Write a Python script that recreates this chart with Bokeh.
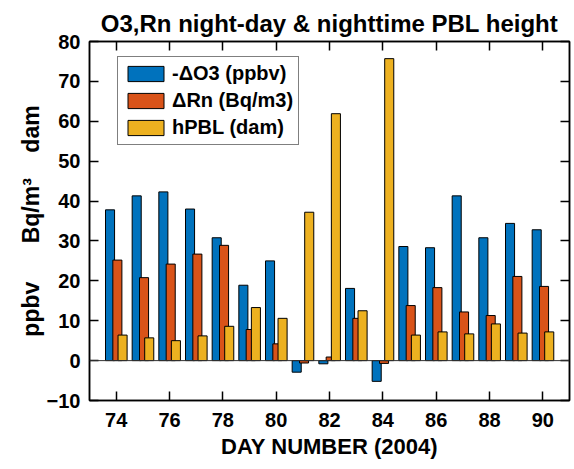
from bokeh.plotting import figure
from bokeh.models import ColumnDataSource, LinearAxis, Span, FixedTicker, Legend
from bokeh.transform import dodge
from bokeh.embed import file_html
from bokeh.resources import INLINE

# ---- data ----
days = [74, 75, 76, 77, 78, 79, 80, 81, 82, 83, 84, 85, 86, 87, 88, 89, 90]
neg_dO3 = [37.8, 41.3, 42.3, 38.0, 30.8, 18.9, 25.0, -2.9, -0.8, 18.1, -5.2, 28.6, 28.3, 41.3, 30.8, 34.4, 32.8]
dRn = [25.2, 20.8, 24.2, 26.7, 28.9, 7.8, 4.2, -0.6, 0.9, 10.6, -0.7, 13.8, 18.3, 12.2, 11.3, 21.1, 18.6]
hPBL = [6.4, 5.7, 5.0, 6.2, 8.6, 13.3, 10.6, 37.2, 61.9, 12.5, 75.7, 6.4, 7.2, 6.7, 9.2, 6.9, 7.2]
x_ticks = [74, 76, 78, 80, 82, 84, 86, 88, 90]
y_ticks = [-10, 0, 10, 20, 30, 40, 50, 60, 70, 80]
labels = ["-\u0394O3 (ppbv)", "\u0394Rn (Bq/m3)", "hPBL (dam)"]
title_text = "O3,Rn night-day & nighttime PBL height"
x_label = "DAY NUMBER (2004)"
y_units = ["ppbv", "Bq/m\u00b3", "dam"]

FONT = "Liberation Sans"
colors = ["#0072BD", "#D95319", "#EDB120"]

src = ColumnDataSource(dict(day=days, o3=neg_dO3, rn=dRn, pbl=hPBL))

p = figure(width=574, height=469, x_range=(73, 91), y_range=(-10, 80),
           output_backend="svg", toolbar_location=None,
           min_border_left=89, min_border_right=5, min_border_top=41, min_border_bottom=69)

p.title.text = title_text
p.title.align = "center"
p.title.text_font = FONT
p.title.text_font_size = "24px"
p.title.text_font_style = "bold"
p.title.text_color = "black"

p.grid.visible = False
p.outline_line_color = "black"
p.outline_line_width = 1.5

w = 0.34
r1 = p.vbar(x=dodge("day", -0.23), top="o3", bottom=0, width=w, source=src,
            fill_color=colors[0], line_color="black", line_width=1)
r2 = p.vbar(x=dodge("day", 0.045), top="rn", bottom=0, width=w, source=src,
            fill_color=colors[1], line_color="black", line_width=1)
r3 = p.vbar(x=dodge("day", 0.24), top="pbl", bottom=0, width=w, source=src,
            fill_color=colors[2], line_color="black", line_width=1)

p.add_layout(Span(location=0, dimension="width", line_color="#333333", line_width=1))

def style_axis(ax, show_labels=True):
    ax.axis_line_color = "black"
    ax.axis_line_width = 1.5
    ax.major_tick_in = 9
    ax.major_tick_out = 0
    ax.major_tick_line_width = 1.5
    ax.major_tick_line_color = "black"
    ax.minor_tick_line_color = None
    ax.major_label_text_font = FONT
    ax.major_label_text_font_style = "bold"
    ax.axis_label_text_font = FONT
    ax.axis_label_text_font_style = "bold"
    ax.axis_label_text_color = "black"
    if show_labels:
        ax.major_label_text_color = "black"
        ax.major_label_text_font_size = "20px"
    else:
        ax.major_label_text_color = None
        ax.major_label_text_font_size = "1px"
        ax.major_label_standoff = 0

p.xaxis.ticker = FixedTicker(ticks=x_ticks)
p.yaxis.ticker = FixedTicker(ticks=y_ticks)
style_axis(p.xaxis[0])
style_axis(p.yaxis[0])
p.xaxis.axis_label = x_label
p.xaxis.axis_label_text_font_size = "22px"
p.xaxis.major_label_standoff = 12
p.xaxis.axis_label_standoff = 4
nb = "\u00a0"
p.yaxis.axis_label = y_units[0] + nb * 6 + y_units[1] + nb * 4 + y_units[2]
p.yaxis.axis_label_text_font_size = "23px"
p.yaxis.major_label_standoff = 9
p.yaxis.axis_label_standoff = 0

top_ax = LinearAxis(ticker=FixedTicker(ticks=x_ticks))
style_axis(top_ax, show_labels=False)
p.add_layout(top_ax, "above")
right_ax = LinearAxis(ticker=FixedTicker(ticks=y_ticks))
style_axis(right_ax, show_labels=False)
p.add_layout(right_ax, "right")

legend = Legend(items=[(labels[0], [r1]), (labels[1], [r2]), (labels[2], [r3])],
                location=(28, 255))
legend.label_text_font = FONT
legend.label_text_font_style = "bold"
legend.label_text_font_size = "20px"
legend.label_text_color = "black"
legend.glyph_width = 45
legend.glyph_height = 19
legend.label_height = 19
legend.spacing = 4
legend.padding = 5
legend.margin = 0
legend.label_standoff = 4
legend.border_line_color = "black"
legend.border_line_width = 1.5
legend.background_fill_alpha = 1
p.add_layout(legend)

open("out.html", "w").write(file_html(p, INLINE))
